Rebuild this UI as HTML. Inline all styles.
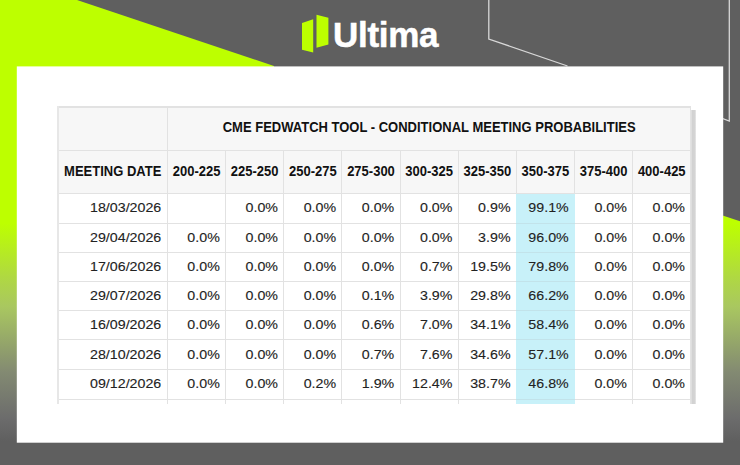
<!DOCTYPE html>
<html><head><meta charset="utf-8"><style>
html,body{margin:0;padding:0;}
body{width:740px;height:465px;position:relative;overflow:hidden;background:#5f5f5f;font-family:"Liberation Sans",sans-serif;}
#tbl div{position:absolute;box-sizing:border-box;}
.abs{position:absolute;}
</style></head><body>
<svg class="abs" style="left:0;top:0" width="740" height="465" viewBox="0 0 740 465">
<defs>
<linearGradient id="g" x1="0" y1="0" x2="0" y2="465" gradientUnits="userSpaceOnUse">
<stop offset="0" stop-color="#bdff00"/>
<stop offset="0.48" stop-color="#bdff00"/>
<stop offset="0.60" stop-color="#afd744"/>
<stop offset="0.66" stop-color="#a9c760"/>
<stop offset="0.80" stop-color="#838a72"/>
<stop offset="0.90" stop-color="#6c6c6c"/>
<stop offset="0.95" stop-color="#5f5f5f"/>
</linearGradient>
</defs>
<polygon points="0,0 77,0 274,66 274,465 0,465" fill="url(#g)"/>
<polygon points="700,208 740,221.3 740,465 700,465" fill="url(#g)"/>
<polyline points="488.8,0 488.8,39 567.5,66" fill="none" stroke="#d8d8d8" stroke-width="1.3"/>
<polyline points="729.3,0 729.3,121 716,116" fill="none" stroke="#d8d8d8" stroke-width="1.3"/>
<rect x="16.8" y="66.4" width="706.4" height="376.3" fill="#fff"/>
<polygon points="302,23 313.2,19.2 313.2,52.4 302,49.7" fill="#bdff00"/>
<polygon points="316.5,14.8 328.4,17.7 328.4,44.4 316.5,47.8" fill="#bdff00"/>
</svg>

<div class="abs" style="left:0;top:443px;width:740px;height:22px;background:#5f5f5f"></div>
<div class="abs" style="left:333px;top:10.8px;font-weight:bold;font-size:35px;color:#fff;white-space:nowrap;letter-spacing:-0.3px;line-height:48px;-webkit-text-stroke:0.5px #fff">Ultima</div>
<div id="tbl">
<div style="left:58.00px;top:106.00px;width:632.85px;height:87.50px;background:#f7f7f7"></div>
<div style="left:58.00px;top:106.00px;width:632.85px;height:2.00px;background:#e2e2e2"></div>
<div style="left:58.00px;top:150.00px;width:632.85px;height:1.00px;background:#e2e2e2"></div>
<div style="left:58.00px;top:193.00px;width:632.85px;height:1.00px;background:#e2e2e2"></div>
<div style="left:58.00px;top:222.70px;width:632.85px;height:1.00px;background:#e2e2e2"></div>
<div style="left:58.00px;top:252.00px;width:632.85px;height:1.00px;background:#e2e2e2"></div>
<div style="left:58.00px;top:281.10px;width:632.85px;height:1.00px;background:#e2e2e2"></div>
<div style="left:58.00px;top:310.30px;width:632.85px;height:1.00px;background:#e2e2e2"></div>
<div style="left:58.00px;top:339.30px;width:632.85px;height:1.00px;background:#e2e2e2"></div>
<div style="left:58.00px;top:369.30px;width:632.85px;height:1.00px;background:#e2e2e2"></div>
<div style="left:58.00px;top:398.60px;width:632.85px;height:1.00px;background:#e2e2e2"></div>
<div style="left:57.00px;top:106.00px;width:2.00px;height:298.00px;background:#e7e7e7"></div>
<div style="left:167.00px;top:106.00px;width:1.00px;height:298.00px;background:#e2e2e2"></div>
<div style="left:225.15px;top:150.50px;width:1.00px;height:253.50px;background:#e2e2e2"></div>
<div style="left:283.30px;top:150.50px;width:1.00px;height:253.50px;background:#e2e2e2"></div>
<div style="left:341.45px;top:150.50px;width:1.00px;height:253.50px;background:#e2e2e2"></div>
<div style="left:399.60px;top:150.50px;width:1.00px;height:253.50px;background:#e2e2e2"></div>
<div style="left:457.75px;top:150.50px;width:1.00px;height:253.50px;background:#e2e2e2"></div>
<div style="left:515.90px;top:150.50px;width:1.00px;height:253.50px;background:#e2e2e2"></div>
<div style="left:574.05px;top:150.50px;width:1.00px;height:253.50px;background:#e2e2e2"></div>
<div style="left:632.20px;top:150.50px;width:1.00px;height:253.50px;background:#e2e2e2"></div>
<div style="left:690.35px;top:106.00px;width:1.00px;height:298.00px;background:#e2e2e2"></div>
<div style="left:515.90px;top:194.00px;width:58.65px;height:210.00px;background:#c8f1f9"></div>
<div style="left:515.90px;top:222.70px;width:58.65px;height:1.00px;background:#c2e3ea"></div>
<div style="left:515.90px;top:252.00px;width:58.65px;height:1.00px;background:#c2e3ea"></div>
<div style="left:515.90px;top:281.10px;width:58.65px;height:1.00px;background:#c2e3ea"></div>
<div style="left:515.90px;top:310.30px;width:58.65px;height:1.00px;background:#c2e3ea"></div>
<div style="left:515.90px;top:339.30px;width:58.65px;height:1.00px;background:#c2e3ea"></div>
<div style="left:515.90px;top:369.30px;width:58.65px;height:1.00px;background:#c2e3ea"></div>
<div style="left:515.90px;top:398.60px;width:58.65px;height:1.00px;background:#c2e3ea"></div>
<div style="left:691.00px;top:109.50px;width:4.60px;height:294.50px;background:linear-gradient(to right,#e4e4e4,#d2d2d2 30%,#d4d4d4 70%,#e8e8e8)"></div>
<div style="left:167.50px;top:104.20px;width:523.35px;height:44.50px;font-family:'Liberation Sans',sans-serif;color:#111;white-space:nowrap;font-weight:bold;font-size:13px;display:flex;align-items:center;justify-content:center"><span style="display:inline-block;transform:scaleY(1.12)">CME FEDWATCH TOOL - CONDITIONAL MEETING PROBABILITIES</span></div>
<div style="left:58.00px;top:149.50px;width:109.50px;height:43.00px;font-family:'Liberation Sans',sans-serif;color:#111;white-space:nowrap;font-weight:bold;font-size:13px;display:flex;align-items:center;justify-content:center"><span style="display:inline-block;transform:scaleY(1.1)">MEETING DATE</span></div>
<div style="left:167.50px;top:149.50px;width:58.15px;height:43.00px;font-family:'Liberation Sans',sans-serif;color:#111;white-space:nowrap;font-weight:bold;font-size:13px;display:flex;align-items:center;justify-content:center"><span style="display:inline-block;transform:scaleY(1.1)">200-225</span></div>
<div style="left:225.65px;top:149.50px;width:58.15px;height:43.00px;font-family:'Liberation Sans',sans-serif;color:#111;white-space:nowrap;font-weight:bold;font-size:13px;display:flex;align-items:center;justify-content:center"><span style="display:inline-block;transform:scaleY(1.1)">225-250</span></div>
<div style="left:283.80px;top:149.50px;width:58.15px;height:43.00px;font-family:'Liberation Sans',sans-serif;color:#111;white-space:nowrap;font-weight:bold;font-size:13px;display:flex;align-items:center;justify-content:center"><span style="display:inline-block;transform:scaleY(1.1)">250-275</span></div>
<div style="left:341.95px;top:149.50px;width:58.15px;height:43.00px;font-family:'Liberation Sans',sans-serif;color:#111;white-space:nowrap;font-weight:bold;font-size:13px;display:flex;align-items:center;justify-content:center"><span style="display:inline-block;transform:scaleY(1.1)">275-300</span></div>
<div style="left:400.10px;top:149.50px;width:58.15px;height:43.00px;font-family:'Liberation Sans',sans-serif;color:#111;white-space:nowrap;font-weight:bold;font-size:13px;display:flex;align-items:center;justify-content:center"><span style="display:inline-block;transform:scaleY(1.1)">300-325</span></div>
<div style="left:458.25px;top:149.50px;width:58.15px;height:43.00px;font-family:'Liberation Sans',sans-serif;color:#111;white-space:nowrap;font-weight:bold;font-size:13px;display:flex;align-items:center;justify-content:center"><span style="display:inline-block;transform:scaleY(1.1)">325-350</span></div>
<div style="left:516.40px;top:149.50px;width:58.15px;height:43.00px;font-family:'Liberation Sans',sans-serif;color:#111;white-space:nowrap;font-weight:bold;font-size:13px;display:flex;align-items:center;justify-content:center"><span style="display:inline-block;transform:scaleY(1.1)">350-375</span></div>
<div style="left:574.55px;top:149.50px;width:58.15px;height:43.00px;font-family:'Liberation Sans',sans-serif;color:#111;white-space:nowrap;font-weight:bold;font-size:13px;display:flex;align-items:center;justify-content:center"><span style="display:inline-block;transform:scaleY(1.1)">375-400</span></div>
<div style="left:632.70px;top:149.50px;width:58.15px;height:43.00px;font-family:'Liberation Sans',sans-serif;color:#111;white-space:nowrap;font-weight:bold;font-size:13px;display:flex;align-items:center;justify-content:center"><span style="display:inline-block;transform:scaleY(1.1)">400-425</span></div>
<div style="left:58.00px;top:192.50px;width:103.30px;height:29.70px;font-family:'Liberation Sans',sans-serif;color:#111;white-space:nowrap;font-size:14.25px;display:flex;align-items:center;justify-content:flex-end;color:#222;-webkit-text-stroke:0.12px #222"><span style="display:inline-block;transform:scaleY(0.92)">18/03/2026</span></div>
<div style="left:167.50px;top:192.50px;width:52.35px;height:29.70px;font-family:'Liberation Sans',sans-serif;color:#111;white-space:nowrap;font-size:14.25px;display:flex;align-items:center;justify-content:flex-end;color:#222;-webkit-text-stroke:0.12px #222"></div>
<div style="left:225.65px;top:192.50px;width:52.35px;height:29.70px;font-family:'Liberation Sans',sans-serif;color:#111;white-space:nowrap;font-size:14.25px;display:flex;align-items:center;justify-content:flex-end;color:#222;-webkit-text-stroke:0.12px #222"><span style="display:inline-block;transform:scaleY(0.92)">0.0%</span></div>
<div style="left:283.80px;top:192.50px;width:52.35px;height:29.70px;font-family:'Liberation Sans',sans-serif;color:#111;white-space:nowrap;font-size:14.25px;display:flex;align-items:center;justify-content:flex-end;color:#222;-webkit-text-stroke:0.12px #222"><span style="display:inline-block;transform:scaleY(0.92)">0.0%</span></div>
<div style="left:341.95px;top:192.50px;width:52.35px;height:29.70px;font-family:'Liberation Sans',sans-serif;color:#111;white-space:nowrap;font-size:14.25px;display:flex;align-items:center;justify-content:flex-end;color:#222;-webkit-text-stroke:0.12px #222"><span style="display:inline-block;transform:scaleY(0.92)">0.0%</span></div>
<div style="left:400.10px;top:192.50px;width:52.35px;height:29.70px;font-family:'Liberation Sans',sans-serif;color:#111;white-space:nowrap;font-size:14.25px;display:flex;align-items:center;justify-content:flex-end;color:#222;-webkit-text-stroke:0.12px #222"><span style="display:inline-block;transform:scaleY(0.92)">0.0%</span></div>
<div style="left:458.25px;top:192.50px;width:52.35px;height:29.70px;font-family:'Liberation Sans',sans-serif;color:#111;white-space:nowrap;font-size:14.25px;display:flex;align-items:center;justify-content:flex-end;color:#222;-webkit-text-stroke:0.12px #222"><span style="display:inline-block;transform:scaleY(0.92)">0.9%</span></div>
<div style="left:516.40px;top:192.50px;width:52.35px;height:29.70px;font-family:'Liberation Sans',sans-serif;color:#111;white-space:nowrap;font-size:14.25px;display:flex;align-items:center;justify-content:flex-end;color:#222;-webkit-text-stroke:0.12px #222"><span style="display:inline-block;transform:scaleY(0.92)">99.1%</span></div>
<div style="left:574.55px;top:192.50px;width:52.35px;height:29.70px;font-family:'Liberation Sans',sans-serif;color:#111;white-space:nowrap;font-size:14.25px;display:flex;align-items:center;justify-content:flex-end;color:#222;-webkit-text-stroke:0.12px #222"><span style="display:inline-block;transform:scaleY(0.92)">0.0%</span></div>
<div style="left:632.70px;top:192.50px;width:52.35px;height:29.70px;font-family:'Liberation Sans',sans-serif;color:#111;white-space:nowrap;font-size:14.25px;display:flex;align-items:center;justify-content:flex-end;color:#222;-webkit-text-stroke:0.12px #222"><span style="display:inline-block;transform:scaleY(0.92)">0.0%</span></div>
<div style="left:58.00px;top:222.20px;width:103.30px;height:29.30px;font-family:'Liberation Sans',sans-serif;color:#111;white-space:nowrap;font-size:14.25px;display:flex;align-items:center;justify-content:flex-end;color:#222;-webkit-text-stroke:0.12px #222"><span style="display:inline-block;transform:scaleY(0.92)">29/04/2026</span></div>
<div style="left:167.50px;top:222.20px;width:52.35px;height:29.30px;font-family:'Liberation Sans',sans-serif;color:#111;white-space:nowrap;font-size:14.25px;display:flex;align-items:center;justify-content:flex-end;color:#222;-webkit-text-stroke:0.12px #222"><span style="display:inline-block;transform:scaleY(0.92)">0.0%</span></div>
<div style="left:225.65px;top:222.20px;width:52.35px;height:29.30px;font-family:'Liberation Sans',sans-serif;color:#111;white-space:nowrap;font-size:14.25px;display:flex;align-items:center;justify-content:flex-end;color:#222;-webkit-text-stroke:0.12px #222"><span style="display:inline-block;transform:scaleY(0.92)">0.0%</span></div>
<div style="left:283.80px;top:222.20px;width:52.35px;height:29.30px;font-family:'Liberation Sans',sans-serif;color:#111;white-space:nowrap;font-size:14.25px;display:flex;align-items:center;justify-content:flex-end;color:#222;-webkit-text-stroke:0.12px #222"><span style="display:inline-block;transform:scaleY(0.92)">0.0%</span></div>
<div style="left:341.95px;top:222.20px;width:52.35px;height:29.30px;font-family:'Liberation Sans',sans-serif;color:#111;white-space:nowrap;font-size:14.25px;display:flex;align-items:center;justify-content:flex-end;color:#222;-webkit-text-stroke:0.12px #222"><span style="display:inline-block;transform:scaleY(0.92)">0.0%</span></div>
<div style="left:400.10px;top:222.20px;width:52.35px;height:29.30px;font-family:'Liberation Sans',sans-serif;color:#111;white-space:nowrap;font-size:14.25px;display:flex;align-items:center;justify-content:flex-end;color:#222;-webkit-text-stroke:0.12px #222"><span style="display:inline-block;transform:scaleY(0.92)">0.0%</span></div>
<div style="left:458.25px;top:222.20px;width:52.35px;height:29.30px;font-family:'Liberation Sans',sans-serif;color:#111;white-space:nowrap;font-size:14.25px;display:flex;align-items:center;justify-content:flex-end;color:#222;-webkit-text-stroke:0.12px #222"><span style="display:inline-block;transform:scaleY(0.92)">3.9%</span></div>
<div style="left:516.40px;top:222.20px;width:52.35px;height:29.30px;font-family:'Liberation Sans',sans-serif;color:#111;white-space:nowrap;font-size:14.25px;display:flex;align-items:center;justify-content:flex-end;color:#222;-webkit-text-stroke:0.12px #222"><span style="display:inline-block;transform:scaleY(0.92)">96.0%</span></div>
<div style="left:574.55px;top:222.20px;width:52.35px;height:29.30px;font-family:'Liberation Sans',sans-serif;color:#111;white-space:nowrap;font-size:14.25px;display:flex;align-items:center;justify-content:flex-end;color:#222;-webkit-text-stroke:0.12px #222"><span style="display:inline-block;transform:scaleY(0.92)">0.0%</span></div>
<div style="left:632.70px;top:222.20px;width:52.35px;height:29.30px;font-family:'Liberation Sans',sans-serif;color:#111;white-space:nowrap;font-size:14.25px;display:flex;align-items:center;justify-content:flex-end;color:#222;-webkit-text-stroke:0.12px #222"><span style="display:inline-block;transform:scaleY(0.92)">0.0%</span></div>
<div style="left:58.00px;top:251.50px;width:103.30px;height:29.10px;font-family:'Liberation Sans',sans-serif;color:#111;white-space:nowrap;font-size:14.25px;display:flex;align-items:center;justify-content:flex-end;color:#222;-webkit-text-stroke:0.12px #222"><span style="display:inline-block;transform:scaleY(0.92)">17/06/2026</span></div>
<div style="left:167.50px;top:251.50px;width:52.35px;height:29.10px;font-family:'Liberation Sans',sans-serif;color:#111;white-space:nowrap;font-size:14.25px;display:flex;align-items:center;justify-content:flex-end;color:#222;-webkit-text-stroke:0.12px #222"><span style="display:inline-block;transform:scaleY(0.92)">0.0%</span></div>
<div style="left:225.65px;top:251.50px;width:52.35px;height:29.10px;font-family:'Liberation Sans',sans-serif;color:#111;white-space:nowrap;font-size:14.25px;display:flex;align-items:center;justify-content:flex-end;color:#222;-webkit-text-stroke:0.12px #222"><span style="display:inline-block;transform:scaleY(0.92)">0.0%</span></div>
<div style="left:283.80px;top:251.50px;width:52.35px;height:29.10px;font-family:'Liberation Sans',sans-serif;color:#111;white-space:nowrap;font-size:14.25px;display:flex;align-items:center;justify-content:flex-end;color:#222;-webkit-text-stroke:0.12px #222"><span style="display:inline-block;transform:scaleY(0.92)">0.0%</span></div>
<div style="left:341.95px;top:251.50px;width:52.35px;height:29.10px;font-family:'Liberation Sans',sans-serif;color:#111;white-space:nowrap;font-size:14.25px;display:flex;align-items:center;justify-content:flex-end;color:#222;-webkit-text-stroke:0.12px #222"><span style="display:inline-block;transform:scaleY(0.92)">0.0%</span></div>
<div style="left:400.10px;top:251.50px;width:52.35px;height:29.10px;font-family:'Liberation Sans',sans-serif;color:#111;white-space:nowrap;font-size:14.25px;display:flex;align-items:center;justify-content:flex-end;color:#222;-webkit-text-stroke:0.12px #222"><span style="display:inline-block;transform:scaleY(0.92)">0.7%</span></div>
<div style="left:458.25px;top:251.50px;width:52.35px;height:29.10px;font-family:'Liberation Sans',sans-serif;color:#111;white-space:nowrap;font-size:14.25px;display:flex;align-items:center;justify-content:flex-end;color:#222;-webkit-text-stroke:0.12px #222"><span style="display:inline-block;transform:scaleY(0.92)">19.5%</span></div>
<div style="left:516.40px;top:251.50px;width:52.35px;height:29.10px;font-family:'Liberation Sans',sans-serif;color:#111;white-space:nowrap;font-size:14.25px;display:flex;align-items:center;justify-content:flex-end;color:#222;-webkit-text-stroke:0.12px #222"><span style="display:inline-block;transform:scaleY(0.92)">79.8%</span></div>
<div style="left:574.55px;top:251.50px;width:52.35px;height:29.10px;font-family:'Liberation Sans',sans-serif;color:#111;white-space:nowrap;font-size:14.25px;display:flex;align-items:center;justify-content:flex-end;color:#222;-webkit-text-stroke:0.12px #222"><span style="display:inline-block;transform:scaleY(0.92)">0.0%</span></div>
<div style="left:632.70px;top:251.50px;width:52.35px;height:29.10px;font-family:'Liberation Sans',sans-serif;color:#111;white-space:nowrap;font-size:14.25px;display:flex;align-items:center;justify-content:flex-end;color:#222;-webkit-text-stroke:0.12px #222"><span style="display:inline-block;transform:scaleY(0.92)">0.0%</span></div>
<div style="left:58.00px;top:280.60px;width:103.30px;height:29.20px;font-family:'Liberation Sans',sans-serif;color:#111;white-space:nowrap;font-size:14.25px;display:flex;align-items:center;justify-content:flex-end;color:#222;-webkit-text-stroke:0.12px #222"><span style="display:inline-block;transform:scaleY(0.92)">29/07/2026</span></div>
<div style="left:167.50px;top:280.60px;width:52.35px;height:29.20px;font-family:'Liberation Sans',sans-serif;color:#111;white-space:nowrap;font-size:14.25px;display:flex;align-items:center;justify-content:flex-end;color:#222;-webkit-text-stroke:0.12px #222"><span style="display:inline-block;transform:scaleY(0.92)">0.0%</span></div>
<div style="left:225.65px;top:280.60px;width:52.35px;height:29.20px;font-family:'Liberation Sans',sans-serif;color:#111;white-space:nowrap;font-size:14.25px;display:flex;align-items:center;justify-content:flex-end;color:#222;-webkit-text-stroke:0.12px #222"><span style="display:inline-block;transform:scaleY(0.92)">0.0%</span></div>
<div style="left:283.80px;top:280.60px;width:52.35px;height:29.20px;font-family:'Liberation Sans',sans-serif;color:#111;white-space:nowrap;font-size:14.25px;display:flex;align-items:center;justify-content:flex-end;color:#222;-webkit-text-stroke:0.12px #222"><span style="display:inline-block;transform:scaleY(0.92)">0.0%</span></div>
<div style="left:341.95px;top:280.60px;width:52.35px;height:29.20px;font-family:'Liberation Sans',sans-serif;color:#111;white-space:nowrap;font-size:14.25px;display:flex;align-items:center;justify-content:flex-end;color:#222;-webkit-text-stroke:0.12px #222"><span style="display:inline-block;transform:scaleY(0.92)">0.1%</span></div>
<div style="left:400.10px;top:280.60px;width:52.35px;height:29.20px;font-family:'Liberation Sans',sans-serif;color:#111;white-space:nowrap;font-size:14.25px;display:flex;align-items:center;justify-content:flex-end;color:#222;-webkit-text-stroke:0.12px #222"><span style="display:inline-block;transform:scaleY(0.92)">3.9%</span></div>
<div style="left:458.25px;top:280.60px;width:52.35px;height:29.20px;font-family:'Liberation Sans',sans-serif;color:#111;white-space:nowrap;font-size:14.25px;display:flex;align-items:center;justify-content:flex-end;color:#222;-webkit-text-stroke:0.12px #222"><span style="display:inline-block;transform:scaleY(0.92)">29.8%</span></div>
<div style="left:516.40px;top:280.60px;width:52.35px;height:29.20px;font-family:'Liberation Sans',sans-serif;color:#111;white-space:nowrap;font-size:14.25px;display:flex;align-items:center;justify-content:flex-end;color:#222;-webkit-text-stroke:0.12px #222"><span style="display:inline-block;transform:scaleY(0.92)">66.2%</span></div>
<div style="left:574.55px;top:280.60px;width:52.35px;height:29.20px;font-family:'Liberation Sans',sans-serif;color:#111;white-space:nowrap;font-size:14.25px;display:flex;align-items:center;justify-content:flex-end;color:#222;-webkit-text-stroke:0.12px #222"><span style="display:inline-block;transform:scaleY(0.92)">0.0%</span></div>
<div style="left:632.70px;top:280.60px;width:52.35px;height:29.20px;font-family:'Liberation Sans',sans-serif;color:#111;white-space:nowrap;font-size:14.25px;display:flex;align-items:center;justify-content:flex-end;color:#222;-webkit-text-stroke:0.12px #222"><span style="display:inline-block;transform:scaleY(0.92)">0.0%</span></div>
<div style="left:58.00px;top:309.80px;width:103.30px;height:29.00px;font-family:'Liberation Sans',sans-serif;color:#111;white-space:nowrap;font-size:14.25px;display:flex;align-items:center;justify-content:flex-end;color:#222;-webkit-text-stroke:0.12px #222"><span style="display:inline-block;transform:scaleY(0.92)">16/09/2026</span></div>
<div style="left:167.50px;top:309.80px;width:52.35px;height:29.00px;font-family:'Liberation Sans',sans-serif;color:#111;white-space:nowrap;font-size:14.25px;display:flex;align-items:center;justify-content:flex-end;color:#222;-webkit-text-stroke:0.12px #222"><span style="display:inline-block;transform:scaleY(0.92)">0.0%</span></div>
<div style="left:225.65px;top:309.80px;width:52.35px;height:29.00px;font-family:'Liberation Sans',sans-serif;color:#111;white-space:nowrap;font-size:14.25px;display:flex;align-items:center;justify-content:flex-end;color:#222;-webkit-text-stroke:0.12px #222"><span style="display:inline-block;transform:scaleY(0.92)">0.0%</span></div>
<div style="left:283.80px;top:309.80px;width:52.35px;height:29.00px;font-family:'Liberation Sans',sans-serif;color:#111;white-space:nowrap;font-size:14.25px;display:flex;align-items:center;justify-content:flex-end;color:#222;-webkit-text-stroke:0.12px #222"><span style="display:inline-block;transform:scaleY(0.92)">0.0%</span></div>
<div style="left:341.95px;top:309.80px;width:52.35px;height:29.00px;font-family:'Liberation Sans',sans-serif;color:#111;white-space:nowrap;font-size:14.25px;display:flex;align-items:center;justify-content:flex-end;color:#222;-webkit-text-stroke:0.12px #222"><span style="display:inline-block;transform:scaleY(0.92)">0.6%</span></div>
<div style="left:400.10px;top:309.80px;width:52.35px;height:29.00px;font-family:'Liberation Sans',sans-serif;color:#111;white-space:nowrap;font-size:14.25px;display:flex;align-items:center;justify-content:flex-end;color:#222;-webkit-text-stroke:0.12px #222"><span style="display:inline-block;transform:scaleY(0.92)">7.0%</span></div>
<div style="left:458.25px;top:309.80px;width:52.35px;height:29.00px;font-family:'Liberation Sans',sans-serif;color:#111;white-space:nowrap;font-size:14.25px;display:flex;align-items:center;justify-content:flex-end;color:#222;-webkit-text-stroke:0.12px #222"><span style="display:inline-block;transform:scaleY(0.92)">34.1%</span></div>
<div style="left:516.40px;top:309.80px;width:52.35px;height:29.00px;font-family:'Liberation Sans',sans-serif;color:#111;white-space:nowrap;font-size:14.25px;display:flex;align-items:center;justify-content:flex-end;color:#222;-webkit-text-stroke:0.12px #222"><span style="display:inline-block;transform:scaleY(0.92)">58.4%</span></div>
<div style="left:574.55px;top:309.80px;width:52.35px;height:29.00px;font-family:'Liberation Sans',sans-serif;color:#111;white-space:nowrap;font-size:14.25px;display:flex;align-items:center;justify-content:flex-end;color:#222;-webkit-text-stroke:0.12px #222"><span style="display:inline-block;transform:scaleY(0.92)">0.0%</span></div>
<div style="left:632.70px;top:309.80px;width:52.35px;height:29.00px;font-family:'Liberation Sans',sans-serif;color:#111;white-space:nowrap;font-size:14.25px;display:flex;align-items:center;justify-content:flex-end;color:#222;-webkit-text-stroke:0.12px #222"><span style="display:inline-block;transform:scaleY(0.92)">0.0%</span></div>
<div style="left:58.00px;top:338.80px;width:103.30px;height:30.00px;font-family:'Liberation Sans',sans-serif;color:#111;white-space:nowrap;font-size:14.25px;display:flex;align-items:center;justify-content:flex-end;color:#222;-webkit-text-stroke:0.12px #222"><span style="display:inline-block;transform:scaleY(0.92)">28/10/2026</span></div>
<div style="left:167.50px;top:338.80px;width:52.35px;height:30.00px;font-family:'Liberation Sans',sans-serif;color:#111;white-space:nowrap;font-size:14.25px;display:flex;align-items:center;justify-content:flex-end;color:#222;-webkit-text-stroke:0.12px #222"><span style="display:inline-block;transform:scaleY(0.92)">0.0%</span></div>
<div style="left:225.65px;top:338.80px;width:52.35px;height:30.00px;font-family:'Liberation Sans',sans-serif;color:#111;white-space:nowrap;font-size:14.25px;display:flex;align-items:center;justify-content:flex-end;color:#222;-webkit-text-stroke:0.12px #222"><span style="display:inline-block;transform:scaleY(0.92)">0.0%</span></div>
<div style="left:283.80px;top:338.80px;width:52.35px;height:30.00px;font-family:'Liberation Sans',sans-serif;color:#111;white-space:nowrap;font-size:14.25px;display:flex;align-items:center;justify-content:flex-end;color:#222;-webkit-text-stroke:0.12px #222"><span style="display:inline-block;transform:scaleY(0.92)">0.0%</span></div>
<div style="left:341.95px;top:338.80px;width:52.35px;height:30.00px;font-family:'Liberation Sans',sans-serif;color:#111;white-space:nowrap;font-size:14.25px;display:flex;align-items:center;justify-content:flex-end;color:#222;-webkit-text-stroke:0.12px #222"><span style="display:inline-block;transform:scaleY(0.92)">0.7%</span></div>
<div style="left:400.10px;top:338.80px;width:52.35px;height:30.00px;font-family:'Liberation Sans',sans-serif;color:#111;white-space:nowrap;font-size:14.25px;display:flex;align-items:center;justify-content:flex-end;color:#222;-webkit-text-stroke:0.12px #222"><span style="display:inline-block;transform:scaleY(0.92)">7.6%</span></div>
<div style="left:458.25px;top:338.80px;width:52.35px;height:30.00px;font-family:'Liberation Sans',sans-serif;color:#111;white-space:nowrap;font-size:14.25px;display:flex;align-items:center;justify-content:flex-end;color:#222;-webkit-text-stroke:0.12px #222"><span style="display:inline-block;transform:scaleY(0.92)">34.6%</span></div>
<div style="left:516.40px;top:338.80px;width:52.35px;height:30.00px;font-family:'Liberation Sans',sans-serif;color:#111;white-space:nowrap;font-size:14.25px;display:flex;align-items:center;justify-content:flex-end;color:#222;-webkit-text-stroke:0.12px #222"><span style="display:inline-block;transform:scaleY(0.92)">57.1%</span></div>
<div style="left:574.55px;top:338.80px;width:52.35px;height:30.00px;font-family:'Liberation Sans',sans-serif;color:#111;white-space:nowrap;font-size:14.25px;display:flex;align-items:center;justify-content:flex-end;color:#222;-webkit-text-stroke:0.12px #222"><span style="display:inline-block;transform:scaleY(0.92)">0.0%</span></div>
<div style="left:632.70px;top:338.80px;width:52.35px;height:30.00px;font-family:'Liberation Sans',sans-serif;color:#111;white-space:nowrap;font-size:14.25px;display:flex;align-items:center;justify-content:flex-end;color:#222;-webkit-text-stroke:0.12px #222"><span style="display:inline-block;transform:scaleY(0.92)">0.0%</span></div>
<div style="left:58.00px;top:368.80px;width:103.30px;height:29.30px;font-family:'Liberation Sans',sans-serif;color:#111;white-space:nowrap;font-size:14.25px;display:flex;align-items:center;justify-content:flex-end;color:#222;-webkit-text-stroke:0.12px #222"><span style="display:inline-block;transform:scaleY(0.92)">09/12/2026</span></div>
<div style="left:167.50px;top:368.80px;width:52.35px;height:29.30px;font-family:'Liberation Sans',sans-serif;color:#111;white-space:nowrap;font-size:14.25px;display:flex;align-items:center;justify-content:flex-end;color:#222;-webkit-text-stroke:0.12px #222"><span style="display:inline-block;transform:scaleY(0.92)">0.0%</span></div>
<div style="left:225.65px;top:368.80px;width:52.35px;height:29.30px;font-family:'Liberation Sans',sans-serif;color:#111;white-space:nowrap;font-size:14.25px;display:flex;align-items:center;justify-content:flex-end;color:#222;-webkit-text-stroke:0.12px #222"><span style="display:inline-block;transform:scaleY(0.92)">0.0%</span></div>
<div style="left:283.80px;top:368.80px;width:52.35px;height:29.30px;font-family:'Liberation Sans',sans-serif;color:#111;white-space:nowrap;font-size:14.25px;display:flex;align-items:center;justify-content:flex-end;color:#222;-webkit-text-stroke:0.12px #222"><span style="display:inline-block;transform:scaleY(0.92)">0.2%</span></div>
<div style="left:341.95px;top:368.80px;width:52.35px;height:29.30px;font-family:'Liberation Sans',sans-serif;color:#111;white-space:nowrap;font-size:14.25px;display:flex;align-items:center;justify-content:flex-end;color:#222;-webkit-text-stroke:0.12px #222"><span style="display:inline-block;transform:scaleY(0.92)">1.9%</span></div>
<div style="left:400.10px;top:368.80px;width:52.35px;height:29.30px;font-family:'Liberation Sans',sans-serif;color:#111;white-space:nowrap;font-size:14.25px;display:flex;align-items:center;justify-content:flex-end;color:#222;-webkit-text-stroke:0.12px #222"><span style="display:inline-block;transform:scaleY(0.92)">12.4%</span></div>
<div style="left:458.25px;top:368.80px;width:52.35px;height:29.30px;font-family:'Liberation Sans',sans-serif;color:#111;white-space:nowrap;font-size:14.25px;display:flex;align-items:center;justify-content:flex-end;color:#222;-webkit-text-stroke:0.12px #222"><span style="display:inline-block;transform:scaleY(0.92)">38.7%</span></div>
<div style="left:516.40px;top:368.80px;width:52.35px;height:29.30px;font-family:'Liberation Sans',sans-serif;color:#111;white-space:nowrap;font-size:14.25px;display:flex;align-items:center;justify-content:flex-end;color:#222;-webkit-text-stroke:0.12px #222"><span style="display:inline-block;transform:scaleY(0.92)">46.8%</span></div>
<div style="left:574.55px;top:368.80px;width:52.35px;height:29.30px;font-family:'Liberation Sans',sans-serif;color:#111;white-space:nowrap;font-size:14.25px;display:flex;align-items:center;justify-content:flex-end;color:#222;-webkit-text-stroke:0.12px #222"><span style="display:inline-block;transform:scaleY(0.92)">0.0%</span></div>
<div style="left:632.70px;top:368.80px;width:52.35px;height:29.30px;font-family:'Liberation Sans',sans-serif;color:#111;white-space:nowrap;font-size:14.25px;display:flex;align-items:center;justify-content:flex-end;color:#222;-webkit-text-stroke:0.12px #222"><span style="display:inline-block;transform:scaleY(0.92)">0.0%</span></div>
</div>
</body></html>
